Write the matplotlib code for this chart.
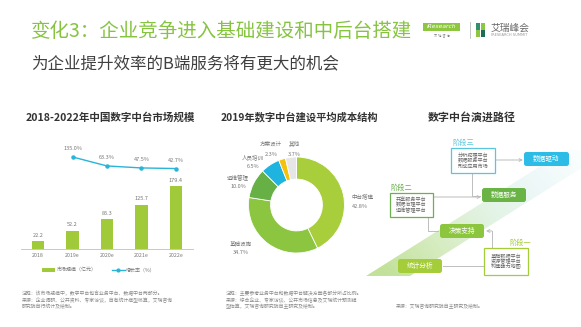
import matplotlib
matplotlib.use('Agg')
import matplotlib.pyplot as plt
import numpy as np
from matplotlib.patches import FancyBboxPatch, Rectangle, Polygon, Patch
from matplotlib.lines import Line2D
from matplotlib.colors import LinearSegmentedColormap

plt.rcParams['font.family'] = ['Noto Sans CJK SC', 'DejaVu Sans']

W, H = 581, 327

# ---------------- data ----------------
title = "变化3：企业竞争进入基础建设和中后台搭建"
subtitle = "为企业提升效率的B端服务将有更大的机会"

bar_title = "2018-2022年中国数字中台市场规模"
years = ["2018", "2019e", "2020e", "2021e", "2022e"]
market_size = [22.2, 52.2, 85.3, 125.7, 179.4]
growth_idx = [1, 2, 3, 4]
growth_rate = [135.0, 63.3, 47.5, 42.7]
legend_labels = ["市场规模（亿元）", "增长率（%）"]
bar_notes = ("注释：该市场规模中，数字中台包含业务中台、数据中台两部分。\n"
             "来源：企业调研、公开资料、专家访谈，自有统计模型核算，艾瑞咨询\n"
             "研究院自行统计及绘制。")

pie_title = "2019年数字中台建设平均成本结构"
cost_labels = ["中台搭建", "基础设施", "运维管理", "人员培训", "方案设计", "其他"]
cost_share = [42.8, 34.7, 10.0, 6.5, 2.3, 3.7]
pie_notes = ("注释：主要参考业务中台和数据中台解决方案各部分所占比例。\n"
             "来源：综合企业、专家访谈、公开市场信息及艾瑞统计预测模\n"
             "型估算，艾瑞咨询研究院自主研究及绘制。")

path_title = "数字中台演进路径"
stage_names = ["阶段一", "阶段二", "阶段三"]
stage_items = ["基础数据平台\n资源管理平台\n构建能力地图",
               "共享服务平台\n数据治理平台\n运维管理平台",
               "分析挖掘平台\n数据服务平台\n形成应用市场"]
outcomes = ["统计分析", "决策支持", "数据服务", "数据驱动"]
path_note = "来源：艾瑞咨询研究院自主研究及绘制。"

# ---------------- colors ----------------
GREEN_T = '#86c440'
BAR_C = '#a0ca3a'
LINE_C = '#29b4da'
pie_colors = ['#a8ce3c', '#8cc540', '#66b046', '#1fb3e0', '#f4c20d', '#e6e6e6']
TXT = '#333333'
GRAY = '#777777'
NOTE = '#8a8a8a'


def fbox(x0, y0, x1, y1):
    return [x0 / W, 1 - y1 / H, (x1 - x0) / W, (y1 - y0) / H]


fig = plt.figure(figsize=(W / 100, H / 100), dpi=100)
fig.patch.set_facecolor('white')

# overlay axis in pixel coordinates
ax0 = fig.add_axes([0, 0, 1, 1])
ax0.set_xlim(0, W)
ax0.set_ylim(H, 0)
ax0.axis('off')

# ---------------- header ----------------
ax0.text(31, 31, title, fontsize=14, color=GREEN_T, va='center', ha='left')
ax0.text(31, 64, subtitle, fontsize=11.9, color='#404040', va='center', ha='left')

# logo
ax0.add_patch(Rectangle((423, 23), 37, 8, color='#8dc63f', lw=0))
ax0.text(441.5, 27, "iResearch", fontsize=4.3, color='white', style='italic',
         ha='center', va='center', family='DejaVu Sans')
ax0.text(441.5, 35, "艾  瑞  咨  询", fontsize=2.2, color='#777777', ha='center', va='center')
ax0.plot([470, 470], [22, 38], color='#bbbbbb', lw=0.6)
ax0.add_patch(Rectangle((476, 23), 4.3, 6.5, color='#2f8f6f', lw=0))
ax0.add_patch(Rectangle((480.7, 23), 4.3, 6.5, color='#8dc63f', lw=0))
ax0.add_patch(Rectangle((476, 30.3), 4.3, 6.5, color='#8dc63f', lw=0))
ax0.add_patch(Rectangle((480.7, 30.3), 4.3, 6.5, color='#1b6e52', lw=0))
ax0.text(491, 27.5, "艾瑞峰会", fontsize=7, color='#666666', ha='left', va='center')
ax0.text(491, 35.5, "IRESEARCH SUMMIT", fontsize=2.6, color='#999999', ha='left', va='center',
         family='DejaVu Sans')

# ---------------- section titles ----------------
ax0.text(110, 117, bar_title, fontsize=7.6, fontweight='bold', color=TXT, ha='center', va='center')
ax0.text(299, 117, pie_title, fontsize=7.4, fontweight='bold', color=TXT, ha='center', va='center')
ax0.text(472, 117, path_title, fontsize=7.9, fontweight='bold', color=TXT, ha='center', va='center')

# ---------------- bar + line chart ----------------
axb = fig.add_axes(fbox(20.75, 140, 193.25, 249))
axb.set_facecolor('none')
x = np.arange(len(years))
axb.bar(x, market_size, width=0.36, color=BAR_C, zorder=2)
axb.set_xlim(-0.5, len(years) - 0.5)
axb.set_ylim(0, 311)
for xi, v in zip(x, market_size):
    axb.annotate(f"{v:.1f}", (xi, v), xytext=(0, 2.5), textcoords='offset points',
                 ha='center', va='bottom', fontsize=4, color=GRAY)
for s in ['top', 'right', 'left']:
    axb.spines[s].set_visible(False)
axb.spines['bottom'].set_color('#bfbfbf')
axb.spines['bottom'].set_linewidth(0.6)
axb.set_yticks([])
axb.set_xticks(x)
axb.set_xticklabels(years, fontsize=3.8, color=GRAY)
axb.tick_params(axis='x', length=0, pad=3)

axl = axb.twinx()
axl.set_ylim(-598, 270)
axl.axis('off')
axl.plot(growth_idx, growth_rate, color=LINE_C, lw=1.0, marker='o', markersize=2.2, zorder=3)
for xi, v in zip(growth_idx, growth_rate):
    axl.annotate(f"{v:.1f}%", (xi, v), xytext=(0, 4), textcoords='offset points',
                 ha='center', va='bottom', fontsize=4, color=GRAY)

handles = [Patch(facecolor=BAR_C, edgecolor='none'),
           Line2D([0], [0], color=LINE_C, lw=1.0, marker='o', markersize=2)]
fig.legend(handles, legend_labels, loc='center', bbox_to_anchor=(99 / W, 1 - 270 / H),
           ncol=2, frameon=False, fontsize=3.6, handlelength=2.6, handleheight=0.8,
           columnspacing=3.0, handletextpad=0.3, labelcolor=GRAY)

ax0.text(22, 291, bar_notes, fontsize=3.5, color=NOTE, ha='left', va='top', linespacing=1.25)

# ---------------- donut ----------------
axp = fig.add_axes(fbox(248.5, 157, 344.5, 253))
axp.pie(cost_share, colors=pie_colors, startangle=90, counterclock=False,
        radius=1.0, wedgeprops=dict(width=0.46, edgecolor='white', linewidth=0.6))
axp.set_xlim(-1, 1)
axp.set_ylim(-1, 1)
axp.set_aspect('equal')
axp.axis('off')

pie_label_pos = [(352, 201, 'left'), (241, 248, 'center'), (238, 182, 'center'),
                 (253, 162, 'center'), (271, 149, 'center'), (294, 149, 'center')]
for (lx, ly, ha), name, val in zip(pie_label_pos, cost_labels, cost_share):
    ax0.text(lx, ly - 5, name, fontsize=4, color=GRAY, ha=ha, va='center')
    ax0.text(lx, ly + 5, f"{val:.1f}%", fontsize=4, color=GRAY, ha=ha, va='center')

ax0.text(226, 291, pie_notes, fontsize=3.5, color=NOTE, ha='left', va='top', linespacing=1.25)

# ---------------- evolution path diagram ----------------
band = Polygon([(366, 276), (410, 276), (610, 150), (566, 150)], closed=True,
               facecolor='none', edgecolor='none')
ax0.add_patch(band)
gx, gy = np.meshgrid(np.linspace(360, 581, 300), np.linspace(150, 278, 200))
t = ((gx - 388) * 0.78 + (276 - gy) * 0.62)
t = np.clip(t / t.max(), 0, 1)
cmap = LinearSegmentedColormap.from_list(
    'band', ['#c2e19a', '#d6ecc0', '#e2f3e3', '#edf8f8', '#fbfefe'])
im = ax0.imshow(t, extent=(360, 581, 278, 150), cmap=cmap, vmin=0, vmax=1,
                aspect='auto', zorder=1, interpolation='bilinear')
im.set_clip_path(band)

LINEC = '#bdbdbd'
lw = 0.7


def arrow(x0, y0, x1, y1):
    ax0.annotate('', xy=(x1, y1), xytext=(x0, y0),
                 arrowprops=dict(arrowstyle='->', color=LINEC, lw=lw,
                                 shrinkA=0, shrinkB=0, mutation_scale=5), zorder=2)


arrow(495, 160, 523, 160)
ax0.plot([472, 472, 480], [173, 196, 196], color=LINEC, lw=lw, zorder=2)
arrow(433, 197, 481, 197)
ax0.plot([428, 428, 438], [217, 231, 231], color=LINEC, lw=lw, zorder=2)
ax0.plot([492, 492], [248, 231], color=LINEC, lw=lw, zorder=2)
arrow(492, 231, 486, 231)
ax0.plot([443, 484], [266, 266], color=LINEC, lw=lw, zorder=2)

stage_geom = [(484, 248, 528, 275, '#a5cd39', 531, 'right'),
              (390, 193, 433, 217, '#6ab04c', 390, 'left'),
              (451, 148, 495, 173, '#5cc5de', 452, 'left')]
for (x0, y0, x1, y1, c, lx, ha), name, items in zip(stage_geom, stage_names, stage_items):
    ax0.add_patch(Rectangle((x0, y0), x1 - x0, y1 - y0, facecolor='white',
                            edgecolor=c, lw=0.9, zorder=3))
    ax0.text((x0 + x1) / 2, (y0 + y1) / 2, items, fontsize=3.7, color='#666666',
             ha='center', va='center', linespacing=1.0, zorder=4)
    ax0.text(lx, y0 - 5, name, fontsize=5.2, color=c, ha=ha, va='center', zorder=4)

out_geom = [(398, 259, 442, 273, '#a5cd39'),
            (440, 224, 484, 238, '#8cc63f'),
            (482, 188, 526, 202, '#6ab445'),
            (524, 152, 569, 166, '#2dbce6')]
for (x0, y0, x1, y1, c), name in zip(out_geom, outcomes):
    ax0.add_patch(FancyBboxPatch((x0, y0), x1 - x0, y1 - y0,
                                 boxstyle='round,pad=0,rounding_size=2.5',
                                 facecolor=c, edgecolor='none', zorder=3))
    ax0.text((x0 + x1) / 2, (y0 + y1) / 2, name, fontsize=4.8, color='white',
             ha='center', va='center', zorder=4)

ax0.text(396, 307, path_note, fontsize=3.5, color=NOTE, ha='left', va='center')

fig.savefig('out.png', dpi=100, facecolor='white')
